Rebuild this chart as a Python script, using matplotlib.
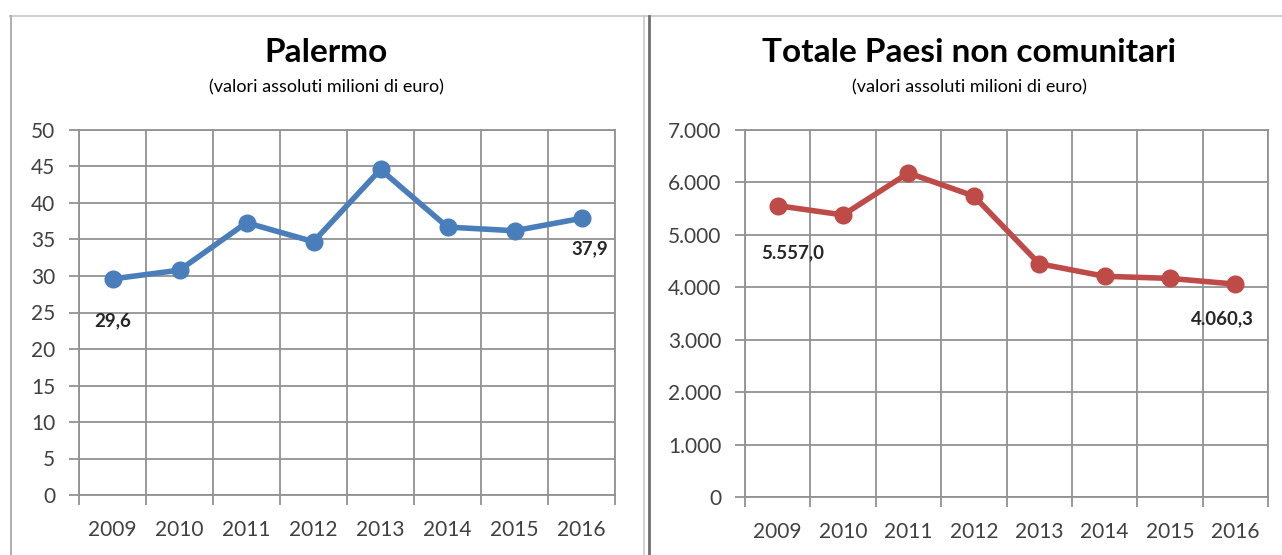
import matplotlib
matplotlib.use("Agg")
import matplotlib.pyplot as plt
from matplotlib.lines import Line2D

plt.rcParams['font.family'] = ['Lato', 'DejaVu Sans']

years = ["2009", "2010", "2011", "2012", "2013", "2014", "2015", "2016"]
palermo = [29.6, 30.8, 37.3, 34.7, 44.6, 36.7, 36.2, 37.9]
extra_ue = [5557.0, 5380, 6180, 5740, 4450, 4210, 4170, 4060.3]

palermo_ticks = [0, 5, 10, 15, 20, 25, 30, 35, 40, 45, 50]
extra_ue_ticks = [0, 1000, 2000, 3000, 4000, 5000, 6000, 7000]
extra_ue_ticklabels = ["0", "1.000", "2.000", "3.000", "4.000", "5.000", "6.000", "7.000"]

palermo_labels = {0: "29,6", 7: "37,9"}
extra_ue_labels = {0: "5.557,0", 7: "4.060,3"}

W, H = 1282, 555
fig = plt.figure(figsize=(W / 100, H / 100), dpi=100)
fig.patch.set_facecolor("white")


def px(x, y):
    return x / W, 1 - y / H


def style_axes(ax, values, color, yticks, yticklabels, ymax, labels, offsets):
    x = list(range(len(years)))
    ax.plot(x, values, color=color, lw=4, marker="o", ms=12, solid_joinstyle="round", zorder=3,
            clip_on=False)
    ax.set_xlim(-0.5, len(years) - 0.5)
    ax.set_ylim(0, ymax)
    ax.set_xticks(x)
    ax.set_xticklabels(years)
    ax.set_xticks([i - 0.5 for i in range(len(years) + 1)], minor=True)
    ax.set_yticks(yticks)
    ax.set_yticklabels(yticklabels)
    ax.grid(which="minor", axis="x", color="#929292", lw=1.3)
    ax.grid(which="major", axis="y", color="#929292", lw=1.3)
    ax.tick_params(axis="x", which="major", length=0, pad=18, labelsize=15, labelcolor="#404040")
    ax.tick_params(axis="x", which="minor", length=7, width=1.3, color="#929292")
    ax.tick_params(axis="y", which="major", length=7, width=1.3, color="#929292", pad=10,
                   labelsize=15, labelcolor="#404040")
    for s in ax.spines.values():
        s.set_color("#929292")
        s.set_linewidth(1.3)
    ax.set_axisbelow(True)
    for i, txt in labels.items():
        ax.annotate(txt, (i, values[i]), xytext=offsets[i], textcoords="offset points",
                    ha="center", va="center", fontsize=13.5, fontweight="bold", color="#262626")


ax1 = fig.add_axes([79 / W, 60 / H, 536 / W, 365 / H])
style_axes(ax1, palermo, "#4a7ebb", palermo_ticks, [str(t) for t in palermo_ticks], 50,
           palermo_labels, {0: (0, -30), 7: (6, -22)})

ax2 = fig.add_axes([745 / W, 58 / H, 523 / W, 367 / H])
style_axes(ax2, extra_ue, "#be4b48", extra_ue_ticks, extra_ue_ticklabels, 7000,
           extra_ue_labels, {0: (11, -34), 7: (-9, -25)})

# titles
fig.text(*px(326, 52), "Palermo", ha="center", va="center", fontsize=24, fontweight="bold")
fig.text(*px(326, 87), "(valori assoluti milioni di euro)", ha="center", va="center", fontsize=13)
fig.text(*px(969, 52), "Totale Paesi non comunitari", ha="center", va="center", fontsize=24,
         fontweight="bold")
fig.text(*px(969, 87), "(valori assoluti milioni di euro)", ha="center", va="center", fontsize=13)

# panel borders
fig.add_artist(Line2D([10 / W, 1], [1 - 16 / H, 1 - 16 / H], color="#d0d0d0", lw=1.5))
fig.add_artist(Line2D([11 / W, 11 / W], [0, 1 - 16 / H], color="#b0b0b0", lw=1.5))
fig.add_artist(Line2D([644 / W, 644 / W], [0, 1 - 16 / H], color="#c8c8c8", lw=1.2))
fig.add_artist(Line2D([649 / W, 649 / W], [0, 1 - 16 / H], color="#707070", lw=2))

fig.savefig("out.png", dpi=100, facecolor="white")
